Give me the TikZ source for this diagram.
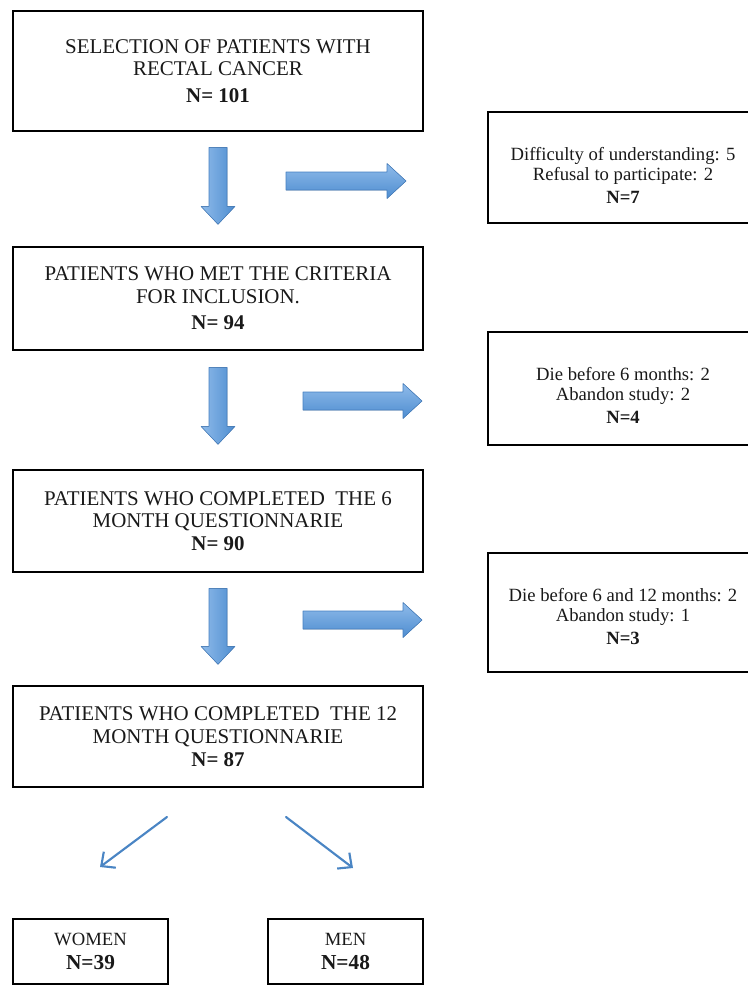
\documentclass[tikz,border=0pt]{standalone}
\usepackage{fontspec}
\setmainfont{Liberation Serif}
\usetikzlibrary{calc, arrows.meta, positioning}
\definecolor{textBlack}{gray}{0.1}
\definecolor{arrowLight}{HTML}{8FBBEA}
\definecolor{arrowDark}{HTML}{4E8DD0}
\definecolor{arrowEdge}{HTML}{457FC0}
\definecolor{lineBlue}{HTML}{4A85C4}

\tikzset{
  stagebox/.style={draw=black, line width=2pt, minimum width=307.5pt, align=center, text=textBlack,
    font=\fontsize{15.7}{17}\selectfont, inner sep=0pt},
  lossbox/.style={draw=black, line width=2pt, minimum width=202.5pt, inner sep=0pt},
  losstext/.style={align=center, text=textBlack, font=\fontsize{14}{15}\selectfont, inner sep=0pt},
  groupbox/.style={draw=black, line width=2pt, minimum width=116.25pt, minimum height=48.75pt,
    align=center, text=textBlack, font=\fontsize{14}{18}\selectfont, inner sep=0pt},
  blockarrow/.style={draw=arrowEdge, line width=0.4pt, line join=round},
  splitarrow/.style={lineBlue, line width=1.6pt, line cap=round, -{Straight Barb[length=8pt,width=15pt]}}
}

% block arrows: #1 = start point, #2 = length (px)
\newcommand{\downblock}[2]{%
  \filldraw[blockarrow, left color=arrowLight, right color=arrowDark]
    ($(#1)+(-9,0)$) -- ($(#1)+(9,0)$) -- ($(#1)+(9,#2-18)$) -- ($(#1)+(17,#2-18)$)
    -- ($(#1)+(0,#2)$) -- ($(#1)+(-17,#2-18)$) -- ($(#1)+(-9,#2-18)$) -- cycle;}
\newcommand{\rightblock}[2]{%
  \filldraw[blockarrow, top color=arrowLight, bottom color=arrowDark]
    ($(#1)+(0,-9)$) -- ($(#1)+(#2-19,-9)$) -- ($(#1)+(#2-19,-17.5)$) -- ($(#1)+(#2,0)$)
    -- ($(#1)+(#2-19,17.5)$) -- ($(#1)+(#2-19,9)$) -- ($(#1)+(0,9)$) -- cycle;}

\begin{document}
\begin{tikzpicture}[x=0.75pt, y=-0.75pt]
  \useasboundingbox (0,0) rectangle (748,985);

  % main stages
  \node[stagebox, minimum height=90pt] (select) at (218,71)
    {SELECTION OF PATIENTS WITH\\ RECTAL CANCER\\[3pt] \textbf{N= 101}};
  \node[stagebox, minimum height=77.25pt] (include) at (218,298.5)
    {PATIENTS WHO MET THE CRITERIA\\ FOR INCLUSION.\\[3pt] \textbf{N= 94}};
  \node[stagebox, minimum height=76.5pt] (sixMonth) at (218,521)
    {PATIENTS WHO COMPLETED\ \ THE 6\\ MONTH QUESTIONNARIE\\ \textbf{N= 90}};
  \node[stagebox, minimum height=75.75pt] (twelveMonth) at (218,736.5)
    {PATIENTS WHO COMPLETED\ \ THE 12\\ MONTH QUESTIONNARIE\\ \textbf{N= 87}};

  % losses
  \node[lossbox, minimum height=83.25pt] (lossA) at (623,167.5) {};
  \node[losstext] (lossAtext) at ($(lossA.center)+(0,8)$)
    {Difficulty of understanding: 5\\ Refusal to participate: 2\\[2pt] \textbf{N=7}};
  \node[lossbox, minimum height=84.75pt] (lossB) at (623,388.5) {};
  \node[losstext] (lossBtext) at ($(lossB.center)+(0,7)$)
    {Die before 6 months: 2\\ Abandon study: 2\\[2pt] \textbf{N=4}};
  \node[lossbox, minimum height=89.25pt] (lossC) at (623,612.5) {};
  \node[losstext] (lossCtext) at ($(lossC.center)+(0,4)$)
    {Die before 6 and 12 months: 2\\ Abandon study: 1\\[2pt] \textbf{N=3}};

  % groups
  \node[groupbox] (women) at (90.5,951.5) {WOMEN\\ \textbf{\fontsize{16}{18}\selectfont N=39}};
  \node[groupbox] (men) at (345.5,951.5) {MEN\\ \textbf{\fontsize{16}{18}\selectfont N=48}};

  % block arrows
  \coordinate (d1) at ($(select.south)+(0,15)$);
  \coordinate (d2) at ($(include.south)+(0,16)$);
  \coordinate (d3) at ($(sixMonth.south)+(0,15)$);
  \downblock{d1}{77}
  \downblock{d2}{77}
  \downblock{d3}{76}
  \coordinate (r1) at (286,181);
  \coordinate (r2) at (303,401);
  \coordinate (r3) at (303,620);
  \rightblock{r1}{120}
  \rightblock{r2}{119}
  \rightblock{r3}{119}

  % split
  \coordinate (wStart) at (167,817);
  \coordinate (wEnd) at (100,867);
  \coordinate (mStart) at (286,817);
  \coordinate (mEnd) at (353,868);
  \draw[splitarrow] (wStart) -- (wEnd);
  \draw[splitarrow] (mStart) -- (mEnd);
\end{tikzpicture}
\end{document}
